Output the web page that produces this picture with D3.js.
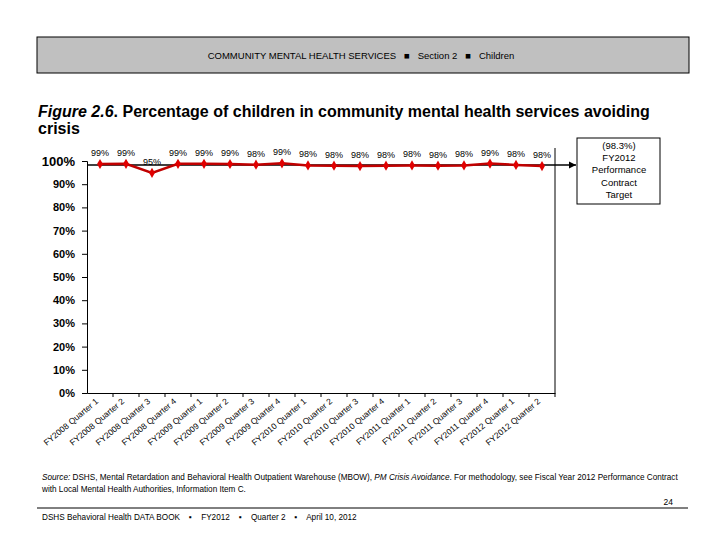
<!DOCTYPE html>
<html>
<head>
<meta charset="utf-8">
<script src="https://cdn.jsdelivr.net/npm/d3@7"></script>
<style>
  body { margin: 0; background: #fff; }
  svg { font-family: "Liberation Sans", Arial, sans-serif; }
</style>
</head>
<body>
<div id="chart"></div>
<script>
const quarters = [
  "FY2008 Quarter 1", "FY2008 Quarter 2", "FY2008 Quarter 3", "FY2008 Quarter 4",
  "FY2009 Quarter 1", "FY2009 Quarter 2", "FY2009 Quarter 3", "FY2009 Quarter 4",
  "FY2010 Quarter 1", "FY2010 Quarter 2", "FY2010 Quarter 3", "FY2010 Quarter 4",
  "FY2011 Quarter 1", "FY2011 Quarter 2", "FY2011 Quarter 3", "FY2011 Quarter 4",
  "FY2012 Quarter 1", "FY2012 Quarter 2"
];
const avoidingCrisis = [98.7, 98.8, 94.9, 98.8, 98.8, 98.7, 98.4, 99.0, 98.1, 98.0,
  97.8, 98.0, 98.1, 98.0, 98.1, 98.9, 98.3, 97.8];
const target = 98.3;
const yTicks = [0, 10, 20, 30, 40, 50, 60, 70, 80, 90, 100];

const width = 720, height = 540;
const svg = d3.select("#chart").append("svg")
  .attr("width", width).attr("height", height);

// header band
svg.append("rect").attr("x", 37).attr("y", 37).attr("width", 652).attr("height", 36)
  .attr("fill", "#c0c0c0").attr("stroke", "#000").attr("stroke-width", 1);
svg.append("text").attr("x", 361).attr("y", 59).attr("text-anchor", "middle")
  .attr("font-size", 9.5).attr("xml:space", "preserve")
  .text("COMMUNITY MENTAL HEALTH SERVICES   \u25A0   Section 2   \u25A0   Children");

// title
const title = svg.append("text").attr("x", 38).attr("y", 117)
  .attr("font-size", 16).attr("font-weight", "bold");
title.append("tspan").attr("font-style", "italic").text("Figure 2.6");
title.append("tspan").text(".  Percentage of children in community mental health services avoiding");
svg.append("text").attr("x", 38).attr("y", 134).attr("font-size", 16)
  .attr("font-weight", "bold").text("crisis");

// scales
const x = d3.scaleBand().domain(quarters).range([87, 555]);
const y = d3.scaleLinear().domain([0, 100]).range([393, 161]);

// y axis
const yAxis = svg.append("g").attr("transform", "translate(87,0)")
  .call(d3.axisLeft(y).tickValues(yTicks).tickSize(5).tickFormat(d => d + "%"));
yAxis.select(".domain").attr("stroke", "#000");
yAxis.selectAll("text").attr("font-size", d => d === 100 ? 13 : 11)
  .attr("font-weight", "bold").attr("x", -12).attr("font-family", "Liberation Sans, Arial");

// x axis
const xAxis = svg.append("g").attr("transform", "translate(0,393)")
  .call(d3.axisBottom(x).tickSize(0).tickSizeOuter(0));
xAxis.select(".domain").attr("stroke", "#000");
xAxis.selectAll(".tick line").remove();
xAxis.selectAll("text")
  .attr("font-size", 8.5).attr("font-family", "Liberation Sans, Arial")
  .attr("text-anchor", "end")
  .attr("transform", "translate(-3,7) rotate(-40)")
  .attr("dy", "0.35em").attr("y", 0);
// boundary ticks
svg.append("g").selectAll("line").data(quarters).join("line")
  .attr("x1", d => x(d) + x.bandwidth()).attr("x2", d => x(d) + x.bandwidth())
  .attr("y1", 393).attr("y2", 397).attr("stroke", "#000");

// right border of plot
svg.append("line").attr("x1", 555).attr("x2", 555).attr("y1", 148).attr("y2", 393)
  .attr("stroke", "#000");

// target line with arrow
svg.append("defs").append("marker").attr("id", "arrow")
  .attr("viewBox", "0 0 10 10").attr("refX", 10).attr("refY", 5)
  .attr("markerWidth", 5).attr("markerHeight", 5).attr("orient", "auto")
  .append("path").attr("d", "M0,0L10,5L0,10z").attr("fill", "#000");
svg.append("line").attr("x1", 87).attr("x2", 576).attr("y1", y(target)).attr("y2", y(target))
  .attr("stroke", "#000").attr("stroke-width", 1.5).attr("marker-end", "url(#arrow)");

// target box
svg.append("rect").attr("x", 577).attr("y", 138).attr("width", 83).attr("height", 66)
  .attr("fill", "#fff").attr("stroke", "#000");
const boxLines = ["(" + target + "%)", "FY2012", "Performance", "Contract", "Target"];
svg.append("g").selectAll("text").data(boxLines).join("text")
  .attr("x", 619).attr("y", (d, i) => 149 + i * 12.2).attr("text-anchor", "middle")
  .attr("font-size", 9.5).text(d => d);

// series line
const cx = d => x(d) + x.bandwidth() / 2;
const line = d3.line().x((d, i) => cx(quarters[i])).y(d => y(d));
svg.append("path").datum(avoidingCrisis).attr("d", line)
  .attr("fill", "none").attr("stroke", "#c00000").attr("stroke-width", 2.5);
svg.append("g").selectAll("path").data(avoidingCrisis).join("path")
  .attr("d", d3.symbol(d3.symbolDiamond, 30))
  .attr("transform", (d, i) => `translate(${cx(quarters[i])},${y(d)})`)
  .attr("fill", "#e00000");
svg.append("g").selectAll("text").data(avoidingCrisis).join("text")
  .attr("x", (d, i) => cx(quarters[i])).attr("y", d => y(d) - 8)
  .attr("text-anchor", "middle").attr("font-size", 9)
  .text(d => Math.round(d) + "%");

// source note
const src1 = svg.append("text").attr("x", 42).attr("y", 480).attr("font-size", 8.2);
src1.append("tspan").attr("font-style", "italic").text("Source:");
src1.append("tspan").text(" DSHS, Mental Retardation and Behavioral Health Outpatient Warehouse (MBOW), ");
src1.append("tspan").attr("font-style", "italic").text("PM Crisis Avoidance");
src1.append("tspan").text(". For methodology, see Fiscal Year 2012 Performance Contract");
svg.append("text").attr("x", 42).attr("y", 492).attr("font-size", 8.2)
  .text("with Local Mental Health Authorities, Information Item C.");

// footer
svg.append("line").attr("x1", 37).attr("x2", 688).attr("y1", 508).attr("y2", 508)
  .attr("stroke", "#000");
svg.append("text").attr("x", 673).attr("y", 505).attr("text-anchor", "end")
  .attr("font-size", 8.5).text("24");
svg.append("text").attr("x", 42).attr("y", 520).attr("font-size", 8.2)
  .attr("xml:space", "preserve")
  .text("DSHS Behavioral Health DATA BOOK    \u25AA    FY2012    \u25AA    Quarter 2    \u25AA    April 10, 2012");
</script>
</body>
</html>
